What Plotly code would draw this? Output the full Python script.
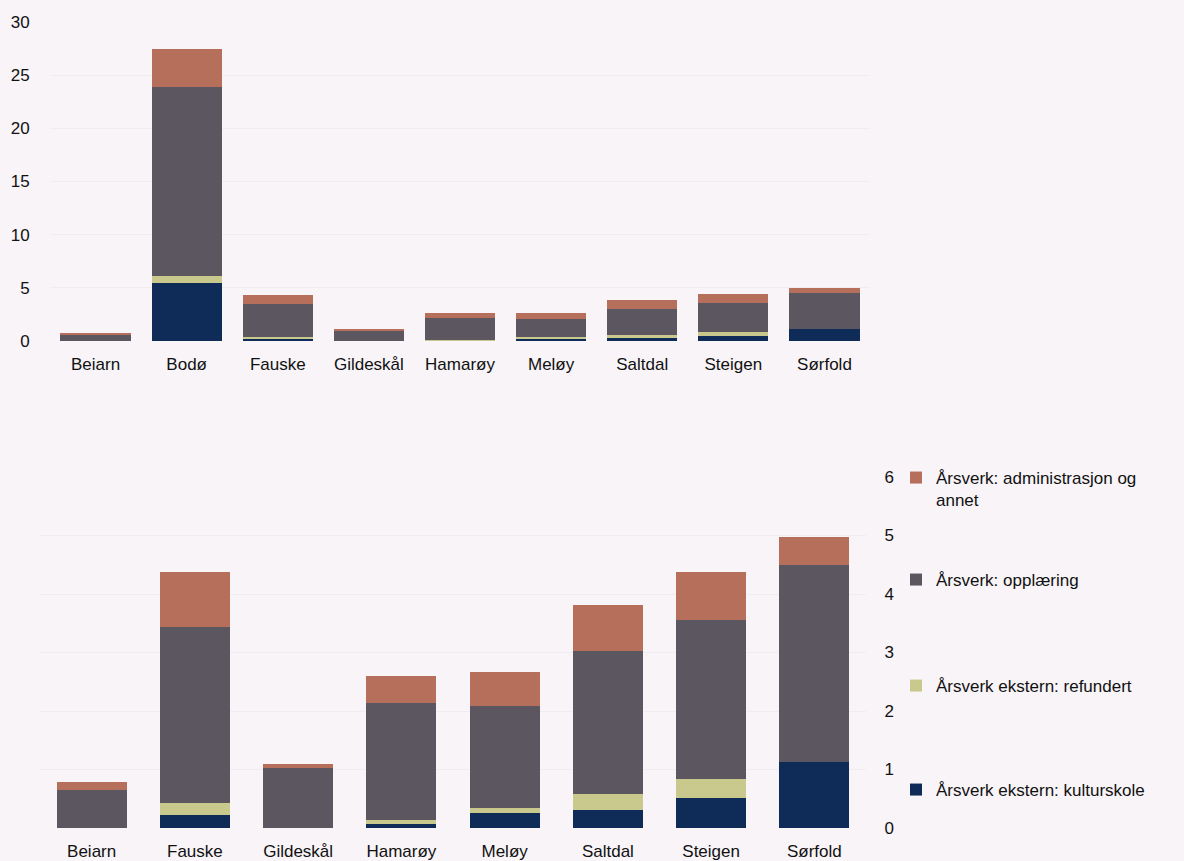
import plotly.graph_objects as go

# ---- data ----
top_kommuner = ["Beiarn", "Bodø", "Fauske", "Gildeskål", "Hamarøy", "Meløy", "Saltdal", "Steigen", "Sørfold"]
top_kulturskole = [0.0, 5.5, 0.23, 0.0, 0.07, 0.26, 0.30, 0.51, 1.12]
top_refundert = [0.0, 0.6, 0.19, 0.0, 0.06, 0.09, 0.28, 0.33, 0.0]
top_opplaering = [0.65, 17.8, 3.02, 1.02, 2.0, 1.74, 2.44, 2.72, 3.37]
top_admin = [0.14, 3.6, 0.93, 0.07, 0.46, 0.58, 0.80, 0.82, 0.49]

bot_kommuner = ["Beiarn", "Fauske", "Gildeskål", "Hamarøy", "Meløy", "Saltdal", "Steigen", "Sørfold"]
bot_kulturskole = [0.0, 0.23, 0.0, 0.07, 0.26, 0.30, 0.51, 1.12]
bot_refundert = [0.0, 0.19, 0.0, 0.06, 0.09, 0.28, 0.33, 0.0]
bot_opplaering = [0.65, 3.02, 1.02, 2.0, 1.74, 2.44, 2.72, 3.37]
bot_admin = [0.14, 0.93, 0.07, 0.46, 0.58, 0.80, 0.82, 0.49]

series_names = ["Årsverk ekstern: kulturskole", "Årsverk ekstern: refundert",
                "Årsverk: opplæring", "Årsverk: administrasjon og<br>annet"]
colors = ["#0f2b58", "#c9c98e", "#5b5660", "#b56f5a"]

W, H = 1184, 861
BG = "#f8f4f8"
FONT = "Liberation Sans, Arial, sans-serif"

fig = go.Figure()

top_sets = [top_kulturskole, top_refundert, top_opplaering, top_admin]
bot_sets = [bot_kulturskole, bot_refundert, bot_opplaering, bot_admin]
legend_ids = ["legend4", "legend3", "legend2", "legend"]

for i in range(4):
    fig.add_trace(go.Bar(x=top_kommuner, y=top_sets[i], name=series_names[i],
                         marker=dict(color=colors[i], line=dict(width=0)),
                         width=0.77,
                         xaxis="x", yaxis="y", showlegend=False))
for i in range(4):
    fig.add_trace(go.Bar(x=bot_kommuner, y=bot_sets[i], name=series_names[i],
                         marker=dict(color=colors[i], line=dict(width=0)),
                         width=0.68,
                         xaxis="x2", yaxis="y2", showlegend=True,
                         legend=legend_ids[i]))

def px_x(p):
    return p / W

def px_y(p):
    return 1 - p / H

axis_font = dict(family=FONT, size=17, color="#111111")

legend_common = dict(font=dict(family=FONT, size=17, color="#111111"),
                     bgcolor="rgba(0,0,0,0)", xanchor="left", yanchor="top",
                     valign="top", itemwidth=30)

fig.update_layout(
    width=W, height=H,
    margin=dict(l=0, r=0, t=0, b=0, autoexpand=False),
    paper_bgcolor=BG, plot_bgcolor=BG,
    barmode="stack",
    font=dict(family=FONT, size=17, color="#111111"),
    xaxis=dict(domain=[px_x(50), px_x(870)], anchor="y", tickfont=axis_font,
               automargin=False,
               showgrid=False, showline=False, zeroline=False,
               ticks="outside", ticklen=8, tickcolor=BG),
    yaxis=dict(domain=[px_y(341), px_y(22)], range=[0, 30], dtick=5, anchor="x",
               automargin=False,
               tickfont=axis_font, showgrid=True, gridcolor="#f1ecf1",
               zeroline=False, ticks="outside", ticklen=16, tickcolor=BG),
    xaxis2=dict(domain=[px_x(40), px_x(866)], anchor="y2", tickfont=axis_font,
                automargin=False,
                showgrid=False, showline=False, zeroline=False,
                ticks="outside", ticklen=8, tickcolor=BG),
    yaxis2=dict(domain=[px_y(828), px_y(477)], range=[0, 6], dtick=1, anchor="x2",
                automargin=False,
                side="right", tickfont=axis_font, showgrid=True, gridcolor="#f1ecf1",
                zeroline=False, ticks="outside", ticklen=14, tickcolor=BG),
    legend=dict(x=px_x(896), y=px_y(460), **legend_common),
    legend2=dict(x=px_x(896), y=px_y(562), **legend_common),
    legend3=dict(x=px_x(896), y=px_y(668), **legend_common),
    legend4=dict(x=px_x(896), y=px_y(772), **legend_common),
)

fig.write_html("out.html", config={"displayModeBar": False},
               post_script="document.body.style.margin='0';document.body.style.background='%s';" % BG)
